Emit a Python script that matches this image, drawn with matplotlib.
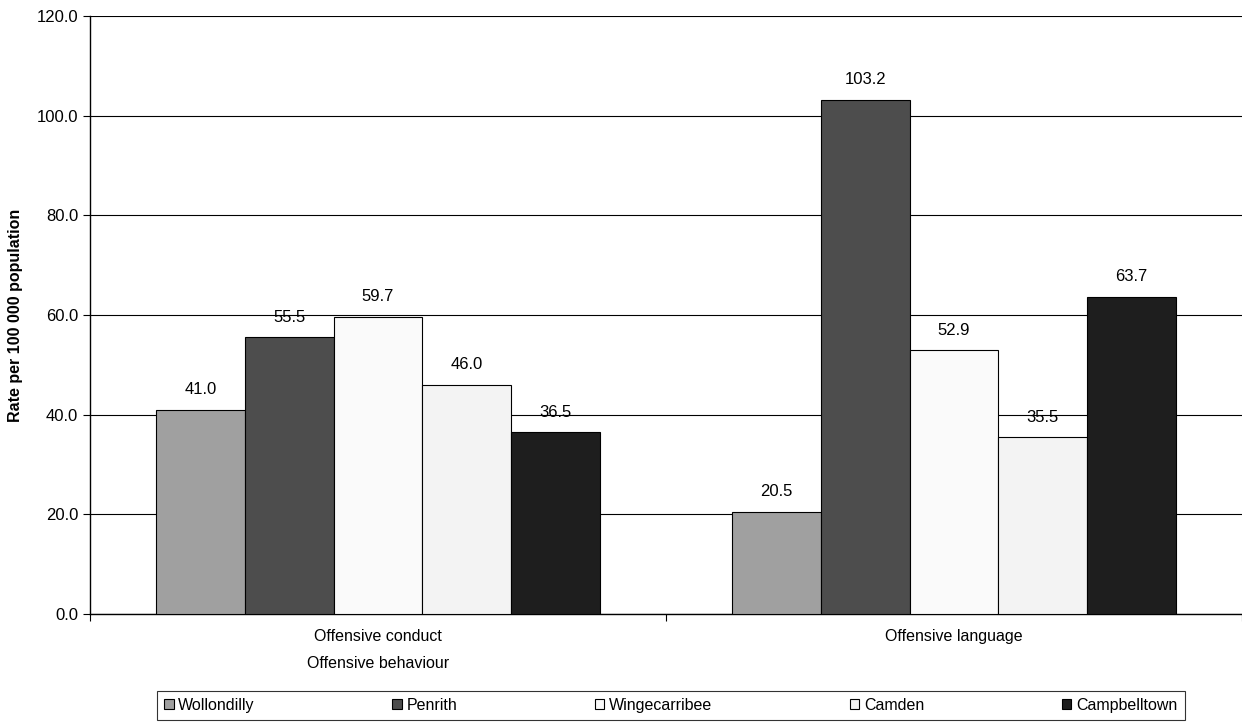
import matplotlib
matplotlib.use("Agg")
import matplotlib.pyplot as plt
import numpy as np

plt.rcParams["font.family"] = ["Liberation Sans", "DejaVu Sans"]

categories = ["Offensive conduct\nOffensive behaviour", "Offensive language"]
areas = ["Wollondilly", "Penrith", "Wingecarribee", "Camden", "Campbelltown"]
rates = {
    "Wollondilly": [41.0, 20.5],
    "Penrith": [55.5, 103.2],
    "Wingecarribee": [59.7, 52.9],
    "Camden": [46.0, 35.5],
    "Campbelltown": [36.5, 63.7],
}
colors = ["#a0a0a0", "#4d4d4d", "#fafafa", "#f3f3f3", "#1e1e1e"]

fig = plt.figure(figsize=(12.42, 7.25), dpi=100)
ax = fig.add_axes([0.0725, 0.153, 0.9275, 0.825])

x = np.arange(len(categories))
width = 0.154
n = len(areas)
for i, (name, col) in enumerate(zip(areas, colors)):
    offs = (i - (n - 1) / 2) * width
    bars = ax.bar(x + offs, rates[name], width, color=col, edgecolor="black",
                  linewidth=0.8, label=name, zorder=3)
    for b, v in zip(bars, rates[name]):
        ax.text(b.get_x() + b.get_width() / 2, v + 2.5, f"{v:.1f}",
                ha="center", va="bottom", fontsize=12, zorder=4)

ax.set_xlim(-0.5, 1.5)
ax.set_ylim(0, 120)
ax.set_yticks(np.arange(0, 121, 20))
ax.set_yticklabels([f"{t:.1f}" for t in np.arange(0, 121, 20)], fontsize=12)
ax.yaxis.grid(True, color="black", linewidth=0.8, zorder=0)
ax.set_axisbelow(True)

ax.set_xticks([-0.5, 0.5, 1.5])
ax.set_xticklabels([])
ax.set_xticks(x, minor=True)
ax.set_xticklabels(categories, minor=True, fontsize=11.5, linespacing=2.0)
ax.tick_params(axis="x", which="minor", length=0, pad=11)
ax.tick_params(axis="x", which="major", length=5, direction="out")
ax.tick_params(axis="y", length=5, direction="out")

for s in ["top", "right"]:
    ax.spines[s].set_visible(False)
ax.spines["left"].set_linewidth(1.0)
ax.spines["bottom"].set_linewidth(1.0)

ax.set_ylabel("Rate per 100 000 population", fontsize=11.5, fontweight="bold", labelpad=10)

leg = fig.legend(loc="center", bbox_to_anchor=(0.540, 0.027), ncol=5,
                 fontsize=11.5, frameon=True, fancybox=False, edgecolor="black",
                 handlelength=0.6, handleheight=0.6, handletextpad=0.3,
                 columnspacing=8.6, borderpad=0.45, borderaxespad=0)
leg.get_frame().set_linewidth(0.8)

fig.savefig("out.png", dpi=100)
